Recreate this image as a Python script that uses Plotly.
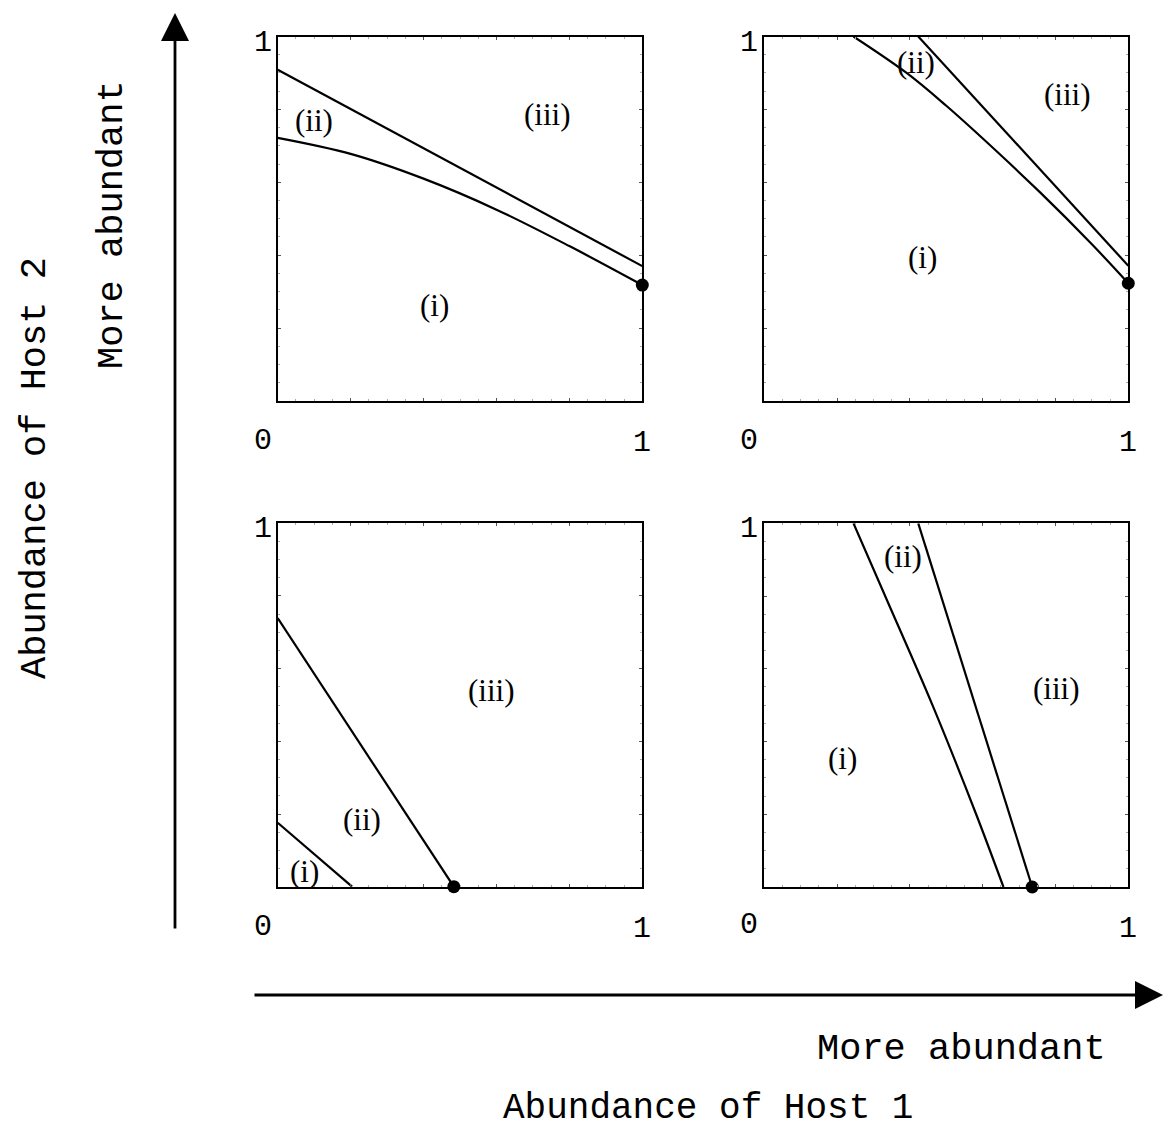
import plotly.graph_objects as go

# ---------------- data ----------------
# Panel 1 (top-left)
p1_upper_x = [0.0, 1.0]
p1_upper_y = [0.909, 0.370]
p1_lower_x = [0.0, 0.2, 0.4, 0.6, 0.8, 1.0]
p1_lower_y = [0.722, 0.678, 0.610, 0.525, 0.425, 0.318]
p1_dot = (1.0, 0.318)

# Panel 2 (top-right)
p2_upper_x = [0.423, 1.0]
p2_upper_y = [1.0, 0.371]
p2_lower_x = [0.245, 0.391, 0.50, 0.574, 0.757, 0.90, 1.0]
p2_lower_y = [1.0, 0.900, 0.810, 0.744, 0.573, 0.430, 0.323]
p2_dot = (1.0, 0.323)

# Panel 3 (bottom-left)
p3_outer_x = [0.0, 0.483]
p3_outer_y = [0.739, 0.0]
p3_inner_x = [0.0, 0.204]
p3_inner_y = [0.176, 0.0]
p3_dot = (0.483, 0.0)

# Panel 4 (bottom-right)
p4_left_x = [0.245, 0.332, 0.462, 0.582, 0.657]
p4_left_y = [1.0, 0.8, 0.5, 0.2, 0.0]
p4_right_x = [0.423, 0.736]
p4_right_y = [1.0, 0.0]
p4_dot = (0.736, 0.0)

# Region labels: (text, x, y)
p1_labels = [("(ii)", 0.099, 0.770), ("(iii)", 0.741, 0.787), ("(i)", 0.431, 0.261)]
p2_labels = [("(ii)", 0.417, 0.928), ("(iii)", 0.832, 0.842), ("(i)", 0.435, 0.393)]
p3_labels = [("(iii)", 0.587, 0.539), ("(ii)", 0.230, 0.186), ("(i)", 0.073, 0.041)]
p4_labels = [("(ii)", 0.381, 0.908), ("(iii)", 0.803, 0.545), ("(i)", 0.216, 0.352)]

tick_text_lo = "0"
tick_text_hi = "1"
x_title = "Abundance of Host 1"
y_title = "Abundance of Host 2"
arrow_text = "More abundant"

# ---------------- layout helpers ----------------
W, H = 1164, 1130


def px(x):
    return x / W


def py(y):
    return 1 - y / H


# panel pixel boxes: left, right, top, bottom
boxes = [
    (277.7, 642.3, 36.5, 401.0),
    (764.3, 1128.3, 36.5, 401.0),
    (277.7, 642.3, 523.3, 886.7),
    (764.3, 1128.3, 523.3, 887.0),
]

fig = go.Figure()

line_style = dict(color="black", width=2.2)
MONO = "Liberation Mono, Courier New, monospace"
SERIF = "Liberation Serif, Times New Roman, serif"

panels = [
    ([(p1_upper_x, p1_upper_y), (p1_lower_x, p1_lower_y)], p1_dot, p1_labels),
    ([(p2_upper_x, p2_upper_y), (p2_lower_x, p2_lower_y)], p2_dot, p2_labels),
    ([(p3_outer_x, p3_outer_y), (p3_inner_x, p3_inner_y)], p3_dot, p3_labels),
    ([(p4_left_x, p4_left_y), (p4_right_x, p4_right_y)], p4_dot, p4_labels),
]

annotations = []
layout_axes = {}
for i, (curves, dot, labels) in enumerate(panels):
    n = i + 1
    xa = "x" if n == 1 else f"x{n}"
    ya = "y" if n == 1 else f"y{n}"
    for cx, cy in curves:
        fig.add_trace(go.Scatter(x=cx, y=cy, mode="lines", line=line_style,
                                 line_shape="spline", xaxis=xa, yaxis=ya,
                                 showlegend=False, hoverinfo="skip"))
    fig.add_trace(go.Scatter(x=[dot[0]], y=[dot[1]], mode="markers",
                             marker=dict(color="black", size=13),
                             cliponaxis=False, xaxis=xa, yaxis=ya,
                             showlegend=False, hoverinfo="skip"))
    l, r, t, b = boxes[i]
    ax_common = dict(range=[0, 1], showgrid=False, zeroline=False,
                     showticklabels=False, showline=True, linecolor="black",
                     linewidth=2, mirror="ticks", ticks="inside", ticklen=3,
                     tickwidth=1, tickcolor="#555", dtick=0.2, tick0=0,
                     minor=dict(ticks="inside", ticklen=2, dtick=0.05,
                                tickcolor="#aaa", tickwidth=1),
                     fixedrange=True)
    xkey = "xaxis" if n == 1 else f"xaxis{n}"
    ykey = "yaxis" if n == 1 else f"yaxis{n}"
    layout_axes[xkey] = dict(ax_common, domain=[px(l), px(r)], anchor=ya)
    layout_axes[ykey] = dict(ax_common, domain=[py(b), py(t)], anchor=xa)

    for txt, lx, ly in labels:
        annotations.append(dict(x=lx, y=ly, xref=xa, yref=ya, text=txt,
                                showarrow=False, xanchor="center", yanchor="middle",
                                font=dict(family=SERIF, size=31, color="black")))
    bottom_off = 40 if n != 4 else 38
    tick_font = dict(family=MONO, size=30, color="black")
    annotations.append(dict(x=0, y=1, xref=xa, yref=ya, text=tick_text_hi,
                            showarrow=False, xshift=-15, yshift=-6,
                            xanchor="center", yanchor="middle", font=tick_font))
    annotations.append(dict(x=0, y=0, xref=xa, yref=ya, text=tick_text_lo,
                            showarrow=False, xshift=-15, yshift=-bottom_off,
                            xanchor="center", yanchor="middle", font=tick_font))
    annotations.append(dict(x=1, y=0, xref=xa, yref=ya, text=tick_text_hi,
                            showarrow=False, xshift=0, yshift=-42,
                            xanchor="center", yanchor="middle", font=tick_font))

# Big arrows
annotations.append(dict(x=px(175), y=py(13), xref="paper", yref="paper",
                        ax=0, ay=917, axref="pixel", ayref="pixel", text="",
                        showarrow=True, arrowhead=2, arrowsize=2.0,
                        arrowwidth=2.8, arrowcolor="black", standoff=0))
annotations.append(dict(x=px(1170), y=py(995), xref="paper", yref="paper",
                        ax=-917, ay=0, axref="pixel", ayref="pixel", text="",
                        showarrow=True, arrowhead=2, arrowsize=2.0,
                        arrowwidth=2.8, arrowcolor="black", standoff=0))

# Axis titles
title_font = dict(family=MONO, size=37, color="black")
annotations.append(dict(x=px(35), y=py(468), xref="paper", yref="paper",
                        text=y_title, textangle=-90, showarrow=False,
                        xanchor="center", yanchor="middle", font=title_font))
annotations.append(dict(x=px(112), y=py(225), xref="paper", yref="paper",
                        text=arrow_text, textangle=-90, showarrow=False,
                        xanchor="center", yanchor="middle", font=title_font))
annotations.append(dict(x=px(962), y=py(1049), xref="paper", yref="paper",
                        text=arrow_text, showarrow=False,
                        xanchor="center", yanchor="middle", font=title_font))
annotations.append(dict(x=px(708), y=py(1108), xref="paper", yref="paper",
                        text=x_title, showarrow=False,
                        xanchor="center", yanchor="middle",
                        font=dict(family=MONO, size=36, color="black")))

fig.update_layout(width=W, height=H, margin=dict(l=0, r=0, t=0, b=0),
                  paper_bgcolor="white", plot_bgcolor="white",
                  showlegend=False, annotations=annotations, **layout_axes)

fig.write_html("out.html", config={"displayModeBar": False},
               post_script="document.body.style.margin='0';"
                           "document.body.style.overflow='hidden';")
